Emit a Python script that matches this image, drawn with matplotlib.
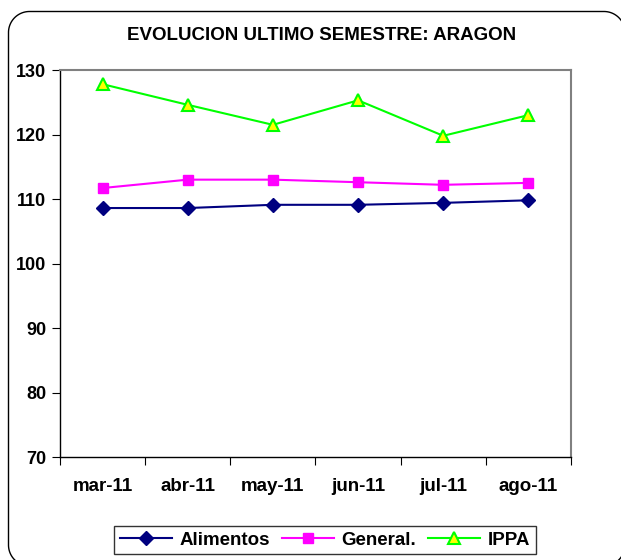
import matplotlib
matplotlib.use("Agg")
import matplotlib.pyplot as plt
import numpy as np
from matplotlib.path import Path
from matplotlib.patches import PathPatch
from matplotlib.transforms import Affine2D

categories = ["mar-11", "abr-11", "may-11", "jun-11", "jul-11", "ago-11"]
alimentos = [108.6, 108.6, 109.1, 109.1, 109.4, 109.8]
general = [111.7, 113.0, 113.0, 112.6, 112.2, 112.5]
ippa = [127.8, 124.6, 121.5, 125.3, 119.8, 123.0]
yticks = [70, 80, 90, 100, 110, 120, 130]

plt.rcParams['font.family'] = ['Liberation Sans', 'DejaVu Sans']

W, H = 621, 560
fig = plt.figure(figsize=(W / 100, H / 100), dpi=100)

# outer rounded border, in pixel units (y downward), converted to figure fraction
L, T, R, B, r = 8.5, 11.5, 625, 566, 21
pts = []
def arc(cx, cy, a0, a1):
    for a in np.linspace(a0, a1, 30):
        pts.append((cx + r * np.cos(a), cy + r * np.sin(a)))
arc(L + r, T + r, np.pi, 1.5 * np.pi)
arc(R - r, T + r, 1.5 * np.pi, 2 * np.pi)
arc(R - r, B - r, 0, 0.5 * np.pi)
arc(L + r, B - r, 0.5 * np.pi, np.pi)
pts.append(pts[0])
verts = [(px / W, 1 - py / H) for px, py in pts]
border = PathPatch(Path(verts), transform=fig.transFigure, fill=False,
                   edgecolor="black", linewidth=1.0, clip_on=False)
fig.patches.append(border)

ax = fig.add_axes([60/621, 1 - 457/560, 511/621, 387/560])
x = list(range(len(categories)))
ax.plot(x, alimentos, color="#000080", marker="D", markersize=7,
        markerfacecolor="#000080", markeredgecolor="#000080", lw=1.5, label="Alimentos")
ax.plot(x, general, color="#FF00FF", marker="s", markersize=7.5,
        markerfacecolor="#FF00FF", markeredgecolor="#FF00FF", lw=1.5, label="General.")
ax.plot(x, ippa, color="#00FF00", marker="^", markersize=9,
        markerfacecolor="#FFFF00", markeredgecolor="#00FF00", markeredgewidth=1.5,
        lw=1.5, label="IPPA")

ax.set_xlim(-0.5, len(categories) - 0.5)
ax.set_ylim(70, 130)
ax.set_yticks(yticks)
ax.set_yticklabels([str(v) for v in yticks], fontsize=13, fontweight="bold")
ax.set_xticks([i - 0.5 for i in range(len(categories) + 1)])
ax.set_xticklabels([])
ax.set_xticks(x, minor=True)
ax.set_xticklabels(categories, minor=True, fontsize=13.5, fontweight="bold")
ax.tick_params(axis="x", which="minor", length=0, pad=15)
ax.tick_params(axis="x", which="major", length=6, direction="out")
ax.tick_params(axis="y", length=6, direction="out", pad=4)
for s in ["top", "right"]:
    ax.spines[s].set_color("#808080")
    ax.spines[s].set_linewidth(1.5)
for s in ["left", "bottom"]:
    ax.spines[s].set_color("black")
    ax.spines[s].set_linewidth(1.0)

fig.text(0.518, 1 - 36/560, "EVOLUCION ULTIMO SEMESTRE: ARAGON",
         ha="center", va="center", fontsize=13.5, fontweight="bold")

leg = fig.legend(loc="center", bbox_to_anchor=(325/621, 1 - 540/560), ncol=3,
                 frameon=True, fancybox=False, edgecolor="black",
                 prop={"size": 13.5, "weight": "bold"}, handlelength=2.8,
                 columnspacing=0.6, handletextpad=0.4, borderpad=0.3)
leg.get_frame().set_linewidth(1.0)

fig.savefig("out.png", dpi=100)
